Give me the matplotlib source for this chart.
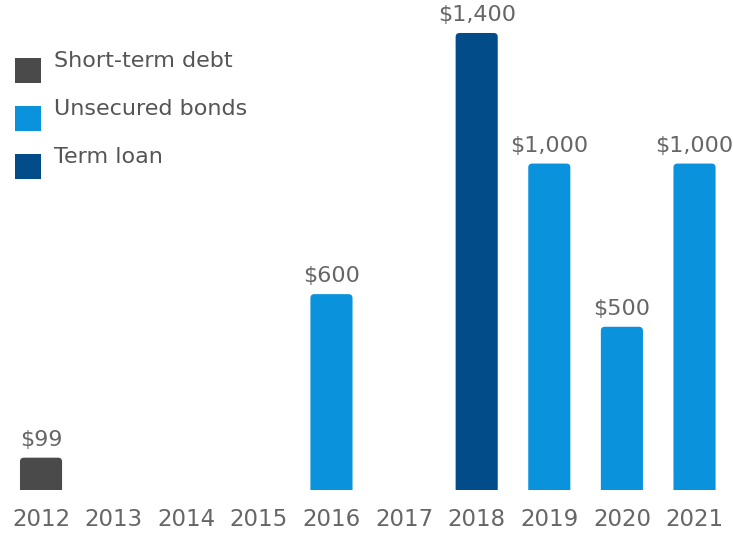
import matplotlib
matplotlib.use("Agg")
import matplotlib.pyplot as plt
from matplotlib.patches import FancyBboxPatch, Rectangle

years = ["2012", "2013", "2014", "2015", "2016", "2017", "2018", "2019", "2020", "2021"]
short_term = [99, 0, 0, 0, 0, 0, 0, 0, 0, 0]
unsecured = [0, 0, 0, 0, 600, 0, 0, 1000, 500, 1000]
term_loan = [0, 0, 0, 0, 0, 0, 1400, 0, 0, 0]

series = [
    ("Short-term debt", short_term, "#4a4a4a"),
    ("Unsecured bonds", unsecured, "#0a93dc"),
    ("Term loan", term_loan, "#024c8a"),
]

W, H = 733, 535
fig = plt.figure(figsize=(W / 100, H / 100), dpi=100)
ax = fig.add_axes([0, 45 / H, 1, 490 / H])
x = list(range(len(years)))
ax.set_xlim(-0.565, 9.53)
ax.set_ylim(0, 1501)
for s in ax.spines.values():
    s.set_visible(False)
ax.set_yticks([])
ax.set_xticks(x)
ax.set_xticklabels(years, fontsize=16.5, color="#666666")
ax.tick_params(axis="x", length=0, pad=13)

fig.canvas.draw()
# data units per pixel in each direction, so the corners come out round
inv = ax.transData.inverted()
(x0, y0), (x1, y1) = inv.transform([(0, 0), (1, 1)])
ux, uy = x1 - x0, y1 - y0
r = 4 * ux

for name, vals, color in series:
    bars = ax.bar(x, vals, width=0.58, color=color)
    for b, v in zip(bars, vals):
        b.set_visible(False)
        if v <= 0:
            continue
        p = FancyBboxPatch((b.get_x(), -r * uy / ux), b.get_width(), v + r * uy / ux,
                           boxstyle=f"round,pad=0,rounding_size={r}",
                           mutation_aspect=uy / ux, facecolor=color,
                           edgecolor="none")
        ax.add_patch(p)
        ax.text(b.get_x() + b.get_width() / 2, v + 12 * uy, f"${v:,.0f}",
                ha="center", va="baseline", fontsize=16, color="#666666")

# legend: square swatches with the label sitting a little higher
for i, (name, _, color) in enumerate(series):
    top = 58 + 48 * i
    fig.add_artist(Rectangle((15 / W, 1 - (top + 25) / H), 26 / W, 25 / H,
                             transform=fig.transFigure, facecolor=color,
                             edgecolor="none"))
    fig.text(54 / W, 1 - (top + 3) / H, name, ha="left", va="center",
             fontsize=16, color="#555555")

fig.savefig("out.png", dpi=100, facecolor="white")
